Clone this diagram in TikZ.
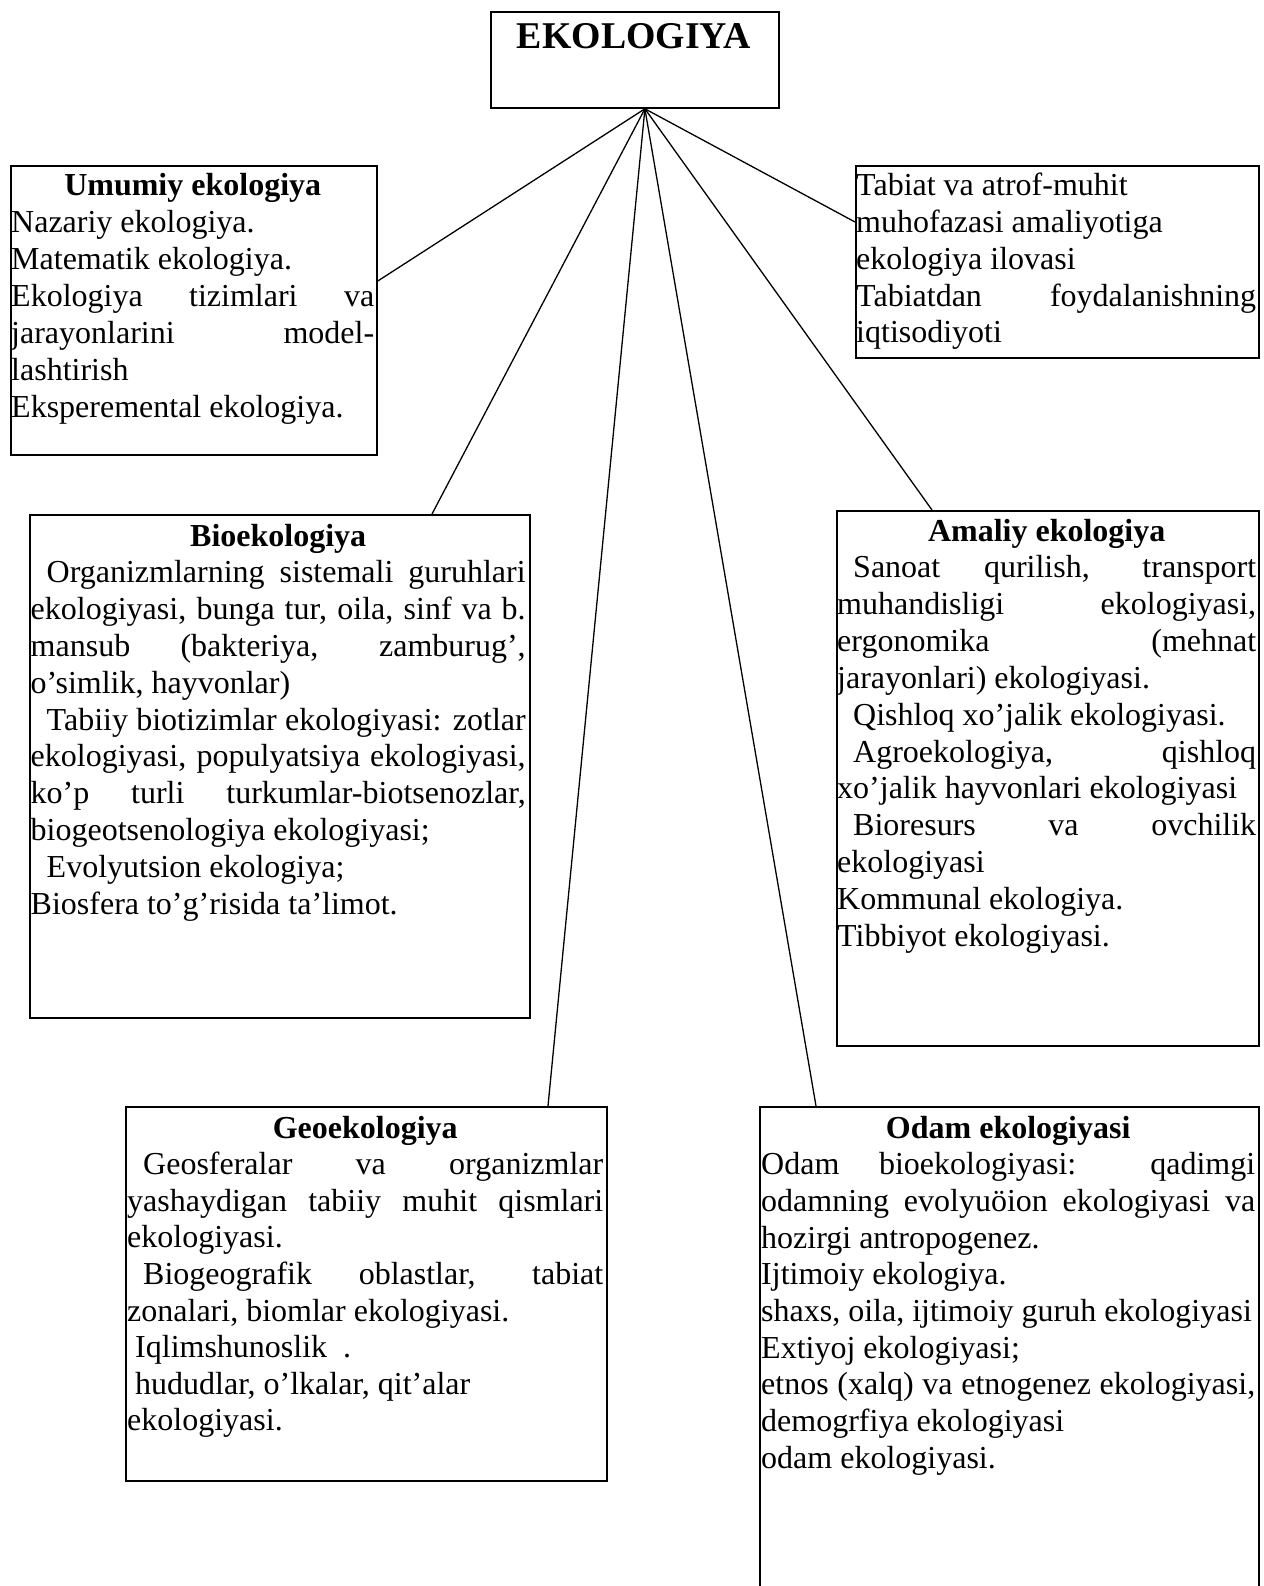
\documentclass[tikz,border=0pt]{standalone}
\usepackage{fontspec}
\setmainfont{Liberation Serif}
\usetikzlibrary{calc}
\newcommand{\jln}[1]{\makebox[\linewidth][s]{#1}}
\newcommand{\rln}[1]{\makebox[\linewidth][l]{#1}}
\newcommand{\hdln}[1]{\makebox[\linewidth][c]{\bfseries #1}}
\newcommand{\ind}{\hspace*{16pt}}
\newcommand{\sind}{\hspace*{8pt}}
\begin{document}
\begin{tikzpicture}[x=1pt,y=-1pt,
  box/.style={draw=black, line width=1.8pt, rectangle, inner sep=0pt, anchor=north west},
  txt/.style={anchor=base west, inner sep=0pt},
  link/.style={draw=black, line width=1.3pt}]
\useasboundingbox (0,0) rectangle (1263,1586);
\clip (0,0) rectangle (1263,1586);
\fill[white] (0,0) rectangle (1263,1586);

% boxes
\node[box, minimum width=288pt, minimum height=96pt] (top) at (490,11) {};
\node[box, minimum width=366pt, minimum height=289pt] (um) at (10,165) {};
\node[box, minimum width=403pt, minimum height=192pt] (tab) at (855,165) {};
\node[box, minimum width=500pt, minimum height=503pt] (bio) at (29,514) {};
\node[box, minimum width=422pt, minimum height=535pt] (am) at (836,510) {};
\node[box, minimum width=481pt, minimum height=374pt] (geo) at (125,1106) {};
\node[box, minimum width=499pt, minimum height=520pt] (odam) at (759,1106) {};

% title
\node[txt, anchor=base] (toptxt) at ($(top.north)+(-1,38)$) {\fontsize{37.8}{42}\selectfont\bfseries EKOLOGIYA};

% texts
\node[txt] (umt) at ($(um.north west)+(1,31)$) {\parbox[t]{363pt}{\fontsize{32}{36.9}\selectfont
\hdln{Umumiy ekologiya}\\
\rln{Nazariy ekologiya.}\\
\rln{Matematik ekologiya.}\\
\jln{Ekologiya tizimlari va}\\
\jln{jarayonlarini model-}\\
\rln{lashtirish}\\
\rln{Eksperemental ekologiya.}}};

\node[txt] (tabt) at ($(tab.north west)+(1,31)$) {\parbox[t]{400pt}{\fontsize{32}{36.7}\selectfont
\rln{Tabiat va atrof-muhit}\\
\rln{muhofazasi amaliyotiga}\\
\rln{ekologiya ilovasi}\\
\jln{Tabiatdan foydalanishning}\\
\rln{iqtisodiyoti}}};

\node[txt] (biot) at ($(bio.north west)+(1.5,32)$) {\parbox[t]{495pt}{\fontsize{32}{36.8}\selectfont
\hdln{Bioekologiya}\\
\jln{\ind Organizmlarning sistemali guruhlari}\\
\jln{ekologiyasi, bunga tur, oila, sinf va b.}\\
\jln{mansub (bakteriya, zamburug’,}\\
\rln{o’simlik, hayvonlar)}\\
\jln{\ind Tabiiy biotizimlar ekologiyasi: zotlar}\\
\jln{ekologiyasi, populyatsiya ekologiyasi,}\\
\jln{ko’p turli turkumlar-biotsenozlar,}\\
\rln{biogeotsenologiya ekologiyasi;}\\
\rln{\ind Evolyutsion ekologiya;}\\
\rln{Biosfera to’g’risida ta’limot.}}};

\node[txt] (amt) at ($(am.north west)+(1,31)$) {\parbox[t]{419pt}{\fontsize{32}{36.85}\selectfont
\hdln{Amaliy ekologiya}\\
\jln{\ind Sanoat qurilish, transport}\\
\jln{muhandisligi ekologiyasi,}\\
\jln{ergonomika (mehnat}\\
\rln{jarayonlari) ekologiyasi.}\\
\rln{\ind Qishloq xo’jalik ekologiyasi.}\\
\jln{\ind Agroekologiya, qishloq}\\
\rln{xo’jalik hayvonlari ekologiyasi}\\
\jln{\ind Bioresurs va ovchilik}\\
\rln{ekologiyasi}\\
\rln{Kommunal ekologiya.}\\
\rln{Tibbiyot ekologiyasi.}}};

\node[txt] (geot) at ($(geo.north west)+(2,32)$) {\parbox[t]{476pt}{\fontsize{32}{36.6}\selectfont
\hdln{Geoekologiya}\\
\jln{\ind Geosferalar va organizmlar}\\
\jln{yashaydigan tabiiy muhit qismlari}\\
\rln{ekologiyasi.}\\
\jln{\ind Biogeografik oblastlar, tabiat}\\
\rln{zonalari, biomlar ekologiyasi.}\\
\rln{\sind Iqlimshunoslik\ \ .}\\
\rln{\sind hududlar, o’lkalar, qit’alar}\\
\rln{ekologiyasi.}}};

\node[txt] (odamt) at ($(odam.north west)+(2,32)$) {\parbox[t]{494pt}{\fontsize{32}{36.7}\selectfont
\hdln{Odam ekologiyasi}\\
\jln{Odam bioekologiyasi: qadimgi}\\
\jln{odamning evolyuöion ekologiyasi va}\\
\rln{hozirgi antropogenez.}\\
\rln{Ijtimoiy ekologiya.}\\
\rln{shaxs, oila, ijtimoiy guruh ekologiyasi}\\
\rln{Extiyoj ekologiyasi;}\\
\jln{etnos (xalq) va etnogenez ekologiyasi,}\\
\rln{demogrfiya ekologiyasi}\\
\rln{odam ekologiyasi.}}};

% connectors
\coordinate (hub) at ($(top.south)+(10,0)$);
\draw[link] (hub) -- ($(um.north east)+(0,116)$);
\draw[link] (hub) -- ($(tab.north west)+(0,57)$);
\draw[link] (hub) -- ($(bio.north west)+(403,0)$);
\draw[link] (hub) -- ($(am.north west)+(96,0)$);
\draw[link] (hub) -- ($(geo.north west)+(423,0)$);
\draw[link] (hub) -- ($(odam.north west)+(57,0)$);
\end{tikzpicture}
\end{document}
